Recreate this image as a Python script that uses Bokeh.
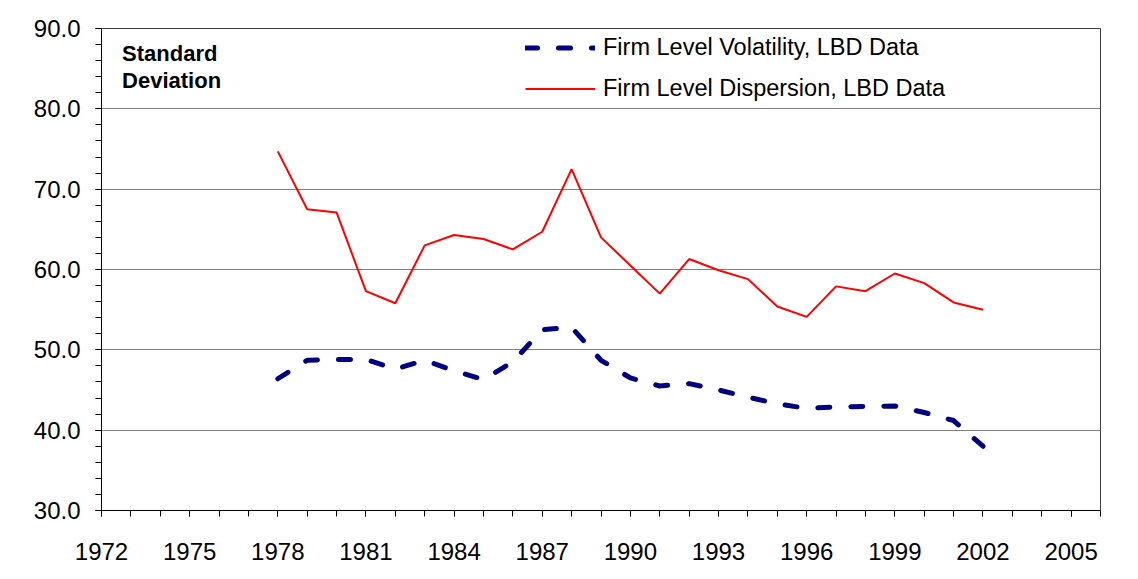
from bokeh.plotting import figure
from bokeh.models import (Range1d, FixedTicker, PrintfTickFormatter, Legend,
                          LegendItem, Label, ColumnDataSource)
from bokeh.embed import file_html
from bokeh.resources import INLINE

years = [1978, 1979, 1980, 1981, 1982, 1983, 1984, 1985, 1986, 1987, 1988, 1989, 1990,
         1991, 1992, 1993, 1994, 1995, 1996, 1997, 1998, 1999, 2000, 2001, 2002]
volatility = [46.4, 48.7, 48.8, 48.8, 47.6, 48.7, 47.4, 46.3, 48.5, 52.5, 52.8, 48.7, 46.5,
              45.5, 45.8, 45.0, 44.1, 43.3, 42.7, 42.9, 42.95, 43.0, 42.2, 41.2, 38.0]
dispersion = [74.7, 67.5, 67.1, 57.3, 55.8, 63.0, 64.3, 63.8, 62.5, 64.7, 72.5, 64.0, 60.5,
              57.0, 61.3, 59.9, 58.8, 55.4, 54.1, 57.9, 57.3, 59.5, 58.3, 55.9, 55.0]
x_major_ticks = [1972, 1975, 1978, 1981, 1984, 1987, 1990, 1993, 1996, 1999, 2002, 2005]
x_minor_ticks = list(range(1972, 2007))
y_major_ticks = [30, 40, 50, 60, 70, 80, 90]
y_minor_ticks = list(range(30, 91, 2))
series_names = ["Firm Level Volatility, LBD Data", "Firm Level Dispersion, LBD Data"]
annotation_lines = ["Standard", "Deviation"]

FONT = "Liberation Sans"

src = ColumnDataSource(dict(year=years, vol=volatility, disp=dispersion))

p = figure(width=1130, height=571, output_backend="svg", toolbar_location=None,
           x_range=Range1d(1972, 2006), y_range=Range1d(30, 90),
           min_border_left=101, min_border_right=30, min_border_top=28, min_border_bottom=61)

p.background_fill_color = "white"
p.border_fill_color = "white"
p.outline_line_color = "#404040"
p.outline_line_width = 1

# axes
p.xaxis.ticker = FixedTicker(ticks=x_major_ticks, minor_ticks=x_minor_ticks)
p.yaxis.ticker = FixedTicker(ticks=y_major_ticks, minor_ticks=y_minor_ticks)
p.yaxis.formatter = PrintfTickFormatter(format="%.1f")
for ax in (p.xaxis, p.yaxis):
    ax.axis_line_color = "black"
    ax.axis_line_width = 1
    ax.major_tick_in = 0
    ax.major_tick_out = 6
    ax.minor_tick_in = 0
    ax.minor_tick_out = 6
    ax.major_tick_line_color = "black"
    ax.minor_tick_line_color = "black"
    ax.major_label_text_font = FONT
    ax.major_label_text_font_size = "24px"
    ax.major_label_text_color = "black"
p.xaxis.major_label_standoff = 26
p.yaxis.major_label_standoff = 15

p.xgrid.grid_line_color = None
p.ygrid.grid_line_color = "#808080"
p.ygrid.grid_line_width = 1

r_vol = p.line("year", "vol", source=src, line_color="#000080", line_width=5,
               line_dash="12 21", line_cap="round", line_join="round")
r_disp = p.line("year", "disp", source=src, line_color="#ff0000", line_width=2)

legend = Legend(items=[LegendItem(label=series_names[0], renderers=[r_vol]),
                       LegendItem(label=series_names[1], renderers=[r_disp])],
                location=(424, 401), orientation="vertical",
                glyph_width=70, glyph_height=41, label_height=41, spacing=0,
                padding=0, margin=0, label_standoff=8,
                label_text_font=FONT, label_text_font_size="23.5px",
                label_text_color="black",
                border_line_alpha=0, background_fill_alpha=0)
p.add_layout(legend)

p.add_layout(Label(x=1972.7, y=86.95, text=annotation_lines[0], text_font=FONT,
                   text_font_size="22px", text_font_style="bold", text_color="black",
                   text_baseline="alphabetic"))
p.add_layout(Label(x=1972.7, y=83.55, text=annotation_lines[1], text_font=FONT,
                   text_font_size="22px", text_font_style="bold", text_color="black",
                   text_baseline="alphabetic"))

open("out.html", "w").write(file_html(p, INLINE))
